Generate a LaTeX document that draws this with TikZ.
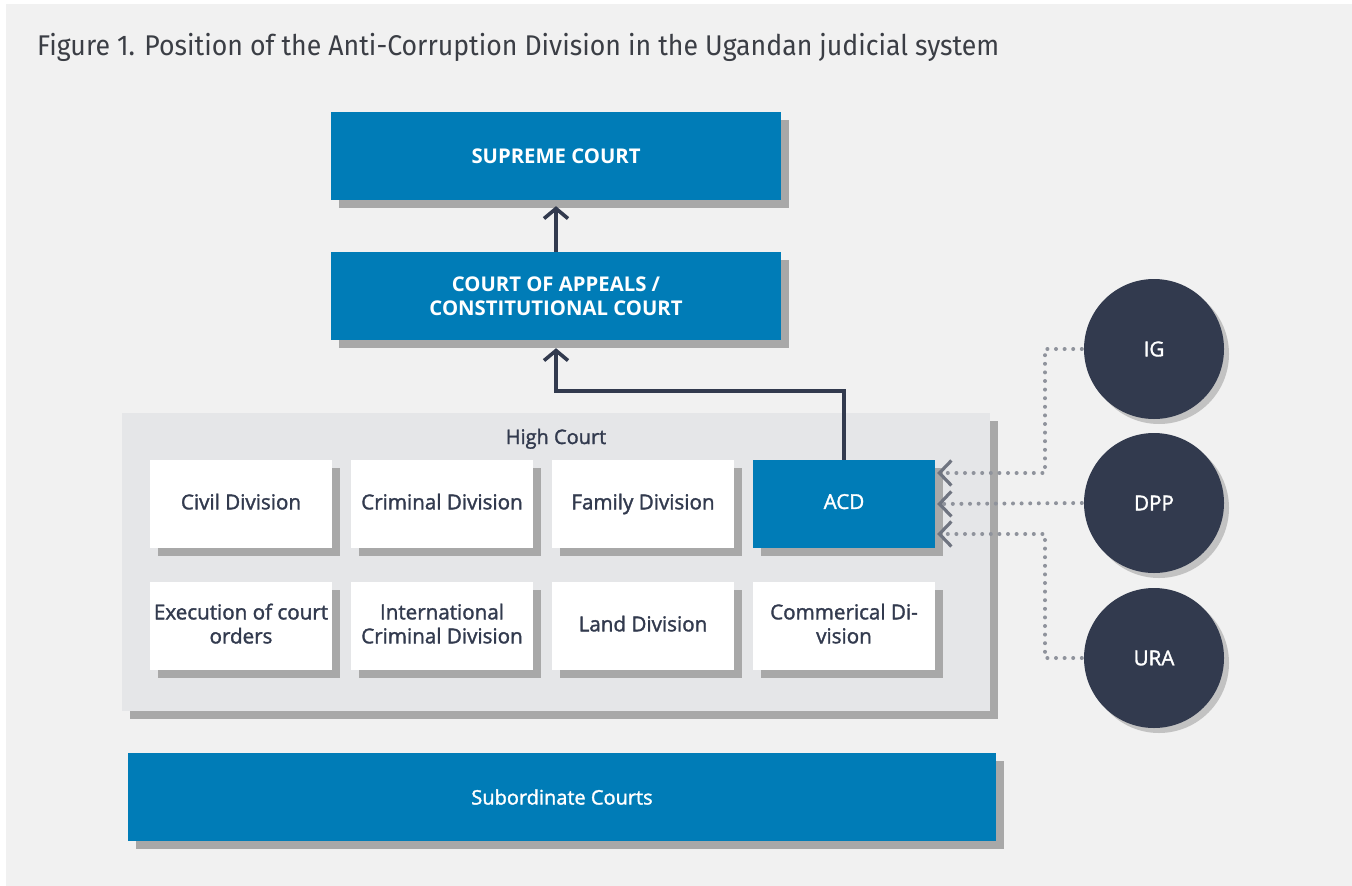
\documentclass[tikz,border=0pt]{standalone}
\usepackage{fontspec}
\setmainfont{Open Sans}
\newfontfamily\semifont[FakeBold=1.6]{Open Sans}
\newfontfamily\titlefont{Fira Sans}
\usetikzlibrary{arrows.meta,shadows,calc}

\definecolor{pagebg}{HTML}{F1F1F1}
\definecolor{courtblue}{HTML}{007CB7}
\definecolor{inkdark}{HTML}{323A4E}
\definecolor{shadegray}{HTML}{A8A8A8}
\definecolor{panelgray}{HTML}{E5E6E8}
\definecolor{dotgray}{HTML}{8F939C}
\definecolor{tipgray}{HTML}{6F7480}
\definecolor{titleink}{HTML}{3B3E45}

\tikzset{
  boxshadow/.style={drop shadow={shadow xshift=8pt, shadow yshift=-8pt, fill=shadegray, opacity=1}},
  bluebox/.style={rectangle, fill=courtblue, text=white, boxshadow, align=center,
    font=\fontsize{20.3}{24}\selectfont\bfseries, inner sep=0pt},
  divbox/.style={rectangle, fill=white, text=inkdark, boxshadow, align=center,
    minimum width=182pt, minimum height=88pt, inner sep=0pt,
    font=\semifont\fontsize{20.6}{24}\selectfont,
    execute at begin node=\vphantom{Ay}},
  agency/.style={circle, fill=inkdark, text=white, minimum size=140pt, inner sep=0pt,
    font=\semifont\fontsize{20.6}{24}\selectfont,
    drop shadow={shadow xshift=5pt, shadow yshift=-5pt, fill=shadegray!70, opacity=1}},
  appeal/.style={draw=inkdark, line width=3.6pt,
    -{Straight Barb[length=10pt,width=24pt]}},
  feed/.style={draw=dotgray, line width=4pt, line cap=round,
    dash pattern=on 0pt off 8.6pt,
    -{Straight Barb[length=12pt,width=25pt,color=tipgray,line width=3.2pt]}}
}

\begin{document}
\begin{tikzpicture}[x=1pt,y=-1pt]
  % page
  \useasboundingbox (0,0) rectangle (1352,886);
  \fill[white] (0,0) rectangle (1352,886);
  \fill[pagebg] (6,4) rectangle (1352,886);

  % title
  \node[anchor=base west, inner sep=0pt, text=titleink] (title) at (37,55)
    {\resizebox{962pt}{\height}{\titlefont\fontsize{28.5}{32}\selectfont Figure 1. Position of the Anti-Corruption Division in the Ugandan judicial system}};

  % upper courts
  \node[bluebox, minimum width=450pt, minimum height=88pt] (supreme) at (556,156) {SUPREME COURT};
  \node[bluebox, minimum width=450pt, minimum height=88pt] (appeals) at (556,296) {COURT OF APPEALS /\\CONSTITUTIONAL COURT};

  % high court panel
  \node[rectangle, fill=panelgray, boxshadow, minimum width=868pt, minimum height=298pt, inner sep=0pt] (high) at (556,562) {};
  \node[anchor=base, inner sep=0pt, text=inkdark, font=\semifont\fontsize{20}{24}\selectfont] (highlabel) at (556,444) {High Court};

  % divisions
  \node[divbox] (civil) at (241,504) {Civil Division};
  \node[divbox] (criminal) at (442,504) {Criminal Division};
  \node[divbox] (family) at (643,504) {Family Division};
  \node[divbox, fill=courtblue, text=white] (acd) at (844,504) {ACD};
  \node[divbox] (execution) at (241,626) {Execution of court\\orders};
  \node[divbox] (intl) at (442,626) {International\\Criminal Division};
  \node[divbox] (land) at (643,626) {Land Division};
  \node[divbox] (commercial) at (844,626) {Commerical Di-\\vision};

  % subordinate courts
  \node[bluebox, minimum width=868pt, minimum height=88pt, font=\semifont\fontsize{20}{24}\selectfont] (sub) at (562,797) {Subordinate Courts};

  % agencies
  \node[agency] (ig) at (1154,349) {IG};
  \node[agency] (dpp) at (1154,503) {DPP};
  \node[agency] (ura) at (1154,658) {URA};

  % appeal route
  \draw[appeal] (appeals.north) -- ([yshift=-6pt]supreme.south);
  \draw[appeal] (acd.north) -- (acd.north |- 0,391) -| ([yshift=-8pt]appeals.south);

  % referrals to the ACD
  \draw[feed] ([xshift=-2pt]ig.west) -| (1045,473) -- ($(acd.east)+(2,-31)$);
  \draw[feed] ([xshift=-2pt]dpp.west) -- ([xshift=2pt]acd.east);
  \draw[feed] ([xshift=-2pt]ura.west) -| (1045,534) -- ($(acd.east)+(2,30)$);
\end{tikzpicture}
\end{document}
